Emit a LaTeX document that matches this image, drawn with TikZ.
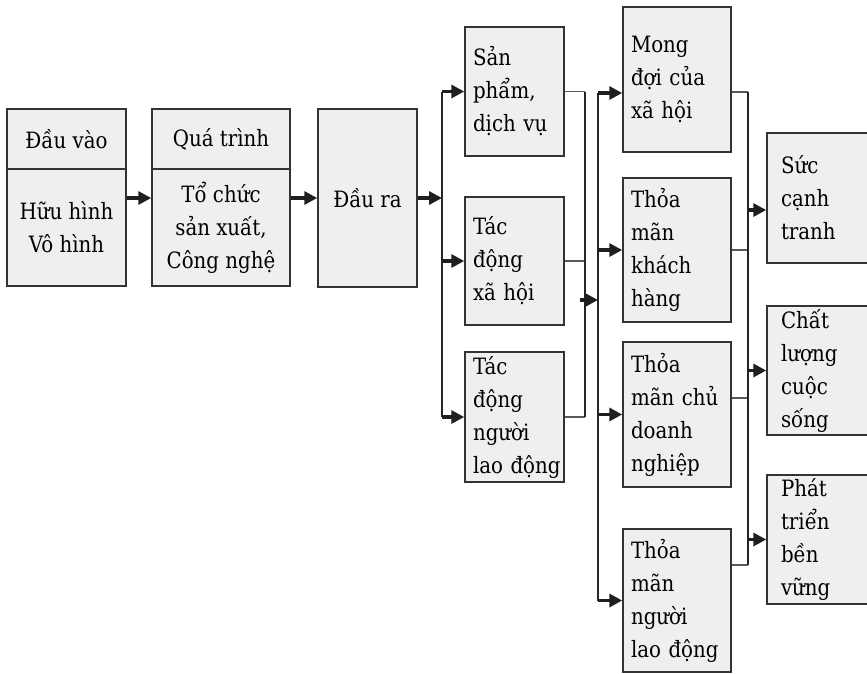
\documentclass[tikz,border=0pt]{standalone}
\usepackage{fontspec}
\setmainfont[FakeStretch=0.88]{DejaVu Serif}
\usetikzlibrary{arrows.meta}
\definecolor{boxfill}{HTML}{EFEFEF}
\definecolor{edge}{HTML}{333333}
\begin{document}
\begin{tikzpicture}[x=1pt,y=-1pt,
  box/.style={draw=edge, line width=1.5pt, fill=boxfill, inner xsep=8pt, inner ysep=0pt,
    font=\fontsize{22.5}{33}\selectfont, align=center},
  lbox/.style={box, align=left, text width=#1},
  arr/.style={draw=black!88, line width=3.6pt, -{Triangle[length=13pt,width=13pt]}},
  bus/.style={draw=black!85, line width=2pt},
  feed/.style={draw=black!65, line width=1.5pt}]
\useasboundingbox (0,0) rectangle (867,673);
\clip (0,0) rectangle (867,673);
% left column
\node[box, minimum width=119, minimum height=60] (dvh) at (66.5,139) {Đầu vào};
\node[box, minimum width=119, minimum height=117] (dvb) at (66.5,227.5) {Hữu hình\\Vô hình};
\node[box, minimum width=138, minimum height=60] (qth) at (221,139) {Quá trình};
\node[box, minimum width=138, minimum height=117] (qtb) at (221,227.5) {Tổ chức\\sản xuất,\\Công nghệ};
\node[box, minimum width=99, minimum height=178] (dr) at (367.5,198) {Đầu~ra};
% second column
\node[lbox=83, minimum width=99, minimum height=129] (sp) at (514.5,91.5) {Sản\\phẩm,\\dịch~vụ};
\node[lbox=83, minimum width=99, minimum height=128] (txh) at (514.5,261) {Tác\\động\\xã~hội};
\node[lbox=83, minimum width=99, minimum height=130] (tnl) at (514.5,417) {Tác\\động\\người\\lao~động};
% third column
\node[lbox=92, minimum width=108, minimum height=145] (md) at (677,79.5) {Mong\\đợi~của\\xã~hội};
\node[lbox=92, minimum width=108, minimum height=144] (tkh) at (677,250) {Thỏa\\mãn\\khách\\hàng};
\node[lbox=92, minimum width=108, minimum height=145] (tc) at (677,414.5) {Thỏa\\mãn~chủ\\doanh\\nghiệp};
\node[lbox=92, minimum width=108, minimum height=143] (tn) at (677,600.5) {Thỏa\\mãn\\người\\lao~động};
% fourth column
\node[lbox=97, minimum width=113, minimum height=130] (sct) at (823.5,198) {\hspace*{6pt}Sức\\\hspace*{6pt}cạnh\\\hspace*{6pt}tranh};
\node[lbox=97, minimum width=113, minimum height=129] (clc) at (823.5,370.5) {\hspace*{6pt}Chất\\\hspace*{6pt}lượng\\\hspace*{6pt}cuộc\\\hspace*{6pt}sống};
\node[lbox=97, minimum width=113, minimum height=129] (ptb) at (823.5,539.5) {\hspace*{6pt}Phát\\\hspace*{6pt}triển\\\hspace*{6pt}bền\\\hspace*{6pt}vững};
% junctions
\coordinate (j1) at (442,198);
\coordinate (j2) at (585,300);
\coordinate (j3) at (598,300);
\coordinate (j4) at (748,300);
\coordinate (mdin) at ([yshift=-13.5pt]md.west);
\coordinate (mdout) at ([yshift=-12.5pt]md.east);
\coordinate (tcout) at ([yshift=16.5pt]tc.east);
\coordinate (tnout) at ([yshift=35.5pt]tn.east);
\coordinate (sctin) at ([yshift=-12pt]sct.west);
% connectors
\draw[arr] (dvb.east |- dr) -- (qtb.west |- dr);
\draw[arr] (qtb.east |- dr) -- (dr.west);
\draw[arr] (dr.east) -- (j1);
\draw[bus] (j1 |- sp) -- (j1 |- tnl);
\draw[arr] (j1 |- sp) -- (sp.west);
\draw[arr] (j1 |- txh) -- (txh.west);
\draw[arr] (j1 |- tnl) -- (tnl.west);
\draw[feed] (sp.east) -- (j2 |- sp);
\draw[feed] (txh.east) -- (j2 |- txh);
\draw[feed] (tnl.east) -- (j2 |- tnl);
\draw[bus] (j2 |- sp) -- (j2 |- tnl);
\draw[arr] ([xshift=-5pt]j2) -- (j3);
\draw[bus] (j3 |- mdin) -- (j3 |- tn);
\draw[arr] (j3 |- mdin) -- (mdin);
\draw[arr] (j3 |- tkh) -- (tkh.west);
\draw[arr] (j3 |- tc) -- (tc.west);
\draw[arr] (j3 |- tn) -- (tn.west);
\draw[feed] (mdout) -- (j4 |- mdout);
\draw[feed] (tkh.east) -- (j4 |- tkh);
\draw[feed] (tcout) -- (j4 |- tcout);
\draw[feed] (tnout) -- (j4 |- tnout);
\draw[bus] (j4 |- mdout) -- (j4 |- tnout);
\draw[arr] (j4 |- sctin) -- (sctin);
\draw[arr] (j4 |- clc) -- (clc.west);
\draw[arr] (j4 |- ptb) -- (ptb.west);
\end{tikzpicture}
\end{document}
